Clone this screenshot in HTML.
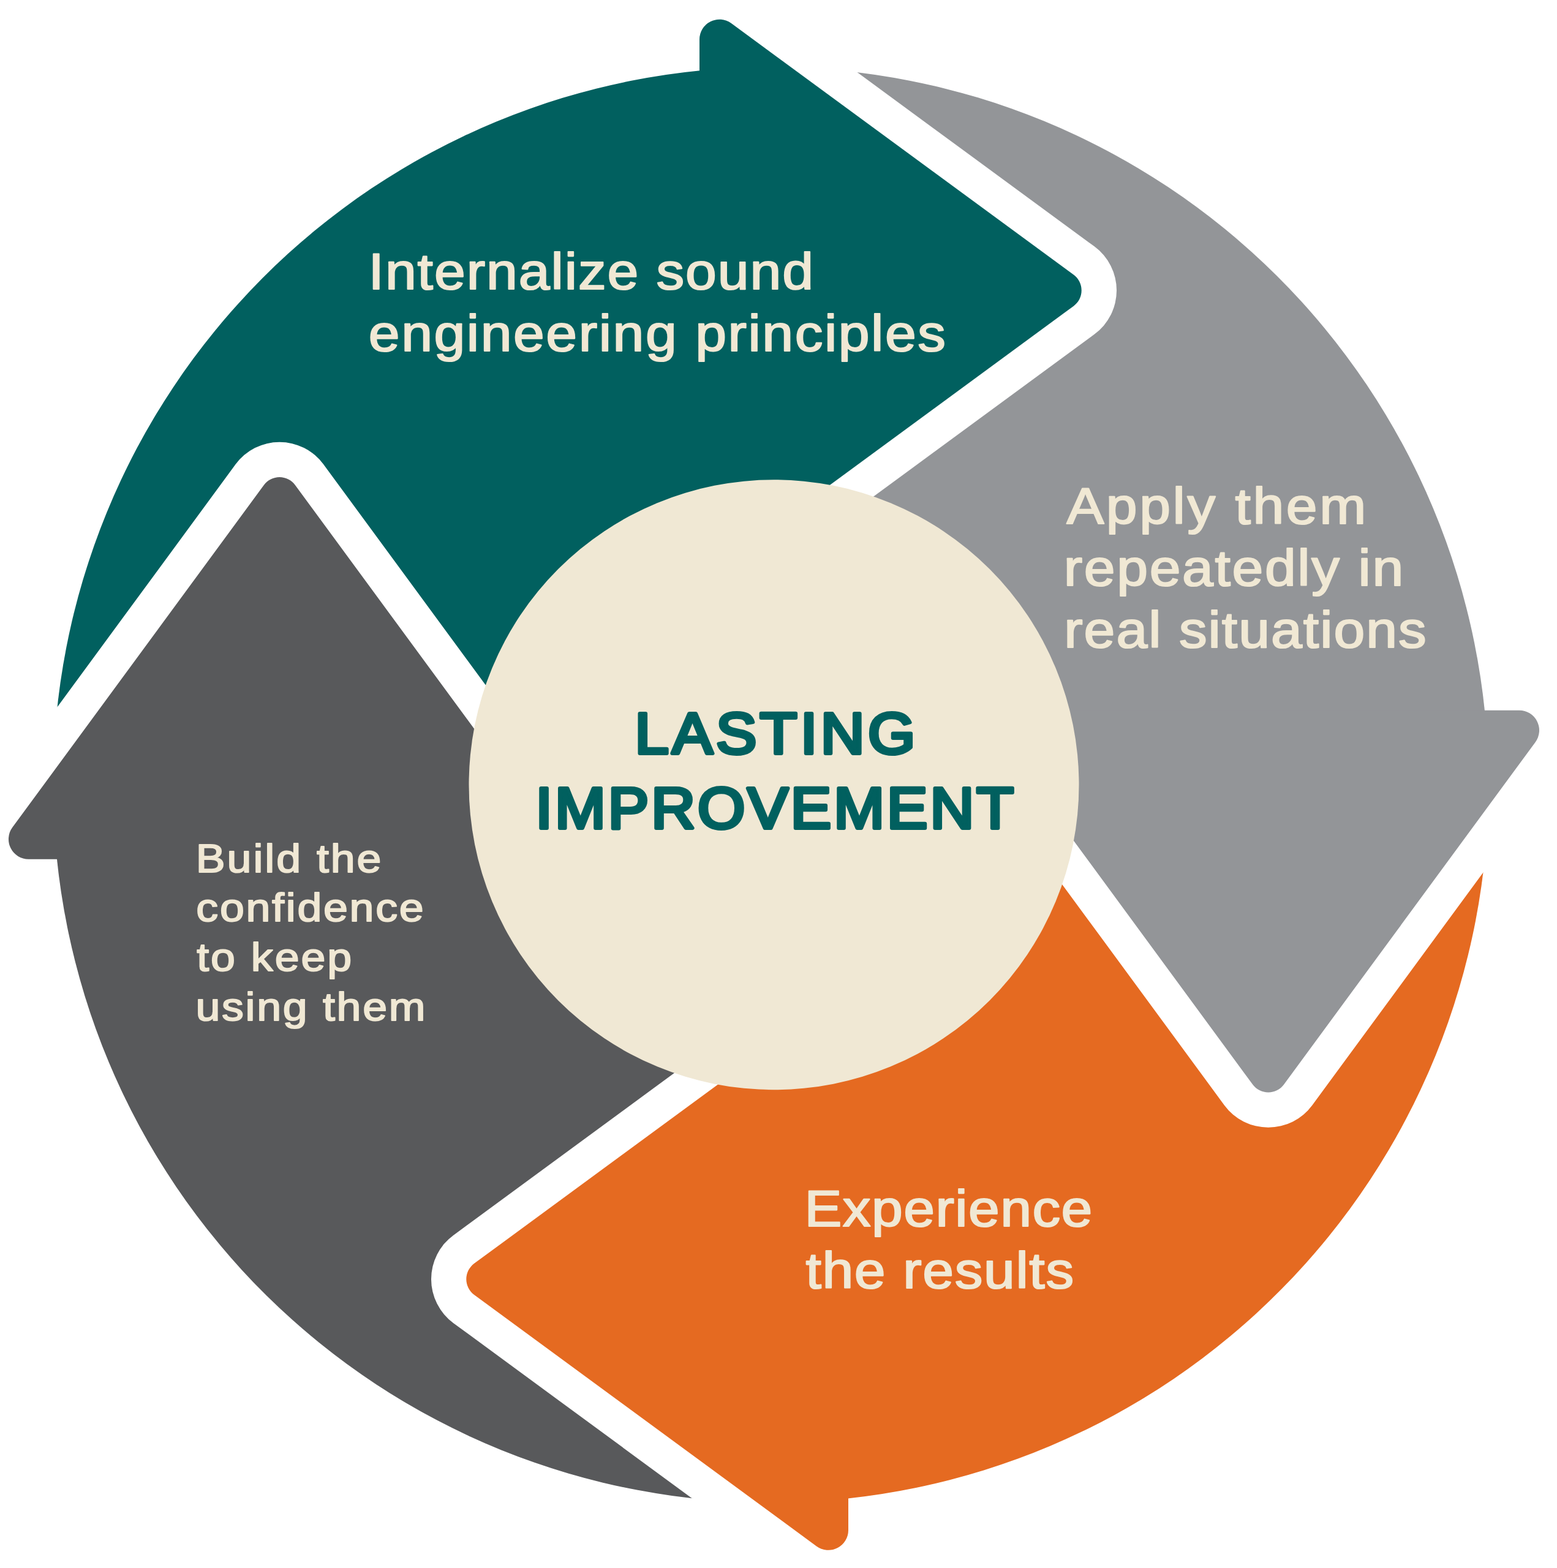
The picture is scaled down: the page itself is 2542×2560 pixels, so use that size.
<!DOCTYPE html>
<html lang="en">
<head>
<meta charset="utf-8">
<title>Lasting Improvement</title>
<style>
  html, body { margin: 0; padding: 0; background: #ffffff; }
  body { width: 2542px; height: 2560px; overflow: hidden; }
  svg { display: block; }
  text { font-family: "Liberation Sans", sans-serif; stroke-linejoin: round; stroke-linecap: round; }
  .lbl { fill: #f0e8d4; stroke: #f0e8d4; }
  .ttl { fill: #01605f; stroke: #01605f; font-weight: normal; }
</style>
</head>
<body>
<svg xmlns="http://www.w3.org/2000/svg" width="2542" height="2560" viewBox="0 0 2542 2560" role="img" aria-label="Lasting improvement cycle">
  <defs>
    <path id="head" d="M-121.5,-397.38 L-121.5,-1216.92 A32.6,32.6 0 0 1 -69.6,-1243.19 L489.28,-832.7 A31.7,31.7 0 0 1 489.28,-781.6 L-69.6,-371.11 A32.6,32.6 0 0 1 -121.5,-397.38 Z"/>
    <mask id="notch" maskUnits="userSpaceOnUse" x="-1400" y="-1400" width="2800" height="2800">
      <rect x="-1400" y="-1400" width="2800" height="2800" fill="#fff"/>
      <path d="M-178.8,-397.38 L-178.8,-1216.92 A89.9,89.9 0 0 1 -35.68,-1289.38 L523.2,-878.88 A89,89 0 0 1 523.2,-735.42 L-35.68,-324.92 A89.9,89.9 0 0 1 -178.8,-397.38 Z" transform="rotate(-90)" fill="#000"/>
    </mask>
  </defs>
  <rect width="2542" height="2560" fill="#ffffff"/>
  <g transform="translate(1263.5,1281.25)">
    <g transform="rotate(0)"><g mask="url(#notch)" fill="#01605f"><path d="M-118.5,-1166.22 A1171.82,1171.82 0 0 0 -1170.56,121.5 L-118.5,121.5 Z"/><use href="#head"/></g></g>
    <g transform="rotate(90)"><g mask="url(#notch)" fill="#939598"><path d="M-118.5,-1160.75 A1171.82,1171.82 0 0 0 -1165.92,121.5 L-118.5,121.5 Z"/><use href="#head"/></g></g>
    <g transform="rotate(180)"><g mask="url(#notch)" fill="#e56a21"><path d="M-118.5,-1165.39 A1171.82,1171.82 0 0 0 -1160.44,121.5 L-118.5,121.5 Z"/><use href="#head"/></g></g>
    <g transform="rotate(270)"><g mask="url(#notch)" fill="#58595b"><path d="M-118.5,-1170.87 A1171.82,1171.82 0 0 0 -1165.07,121.5 L-118.5,121.5 Z"/><use href="#head"/></g></g>
    <circle cx="0" cy="0" r="498" fill="#f0e8d4"/>
  </g>
  <g class="lbl" font-size="83" stroke-width="2.2">
    <text transform="translate(601.6 471.8) scale(1.1 1)" letter-spacing="1.77">Internalize sound</text>
    <text transform="translate(601.8 572.9) scale(1.1 1)" letter-spacing="2.34">engineering principles</text>
  </g>
  <g class="lbl" font-size="83" stroke-width="2.2">
    <text transform="translate(1741.4 854.85) scale(1.1 1)" letter-spacing="3.25">Apply them</text>
    <text transform="translate(1736.8 955.65) scale(1.1 1)" letter-spacing="2.4">repeatedly in</text>
    <text transform="translate(1737.2 1056.55) scale(1.1 1)" letter-spacing="1.84">real situations</text>
  </g>
  <g class="lbl" font-size="83" stroke-width="2.2">
    <text transform="translate(1313.5 2001.5) scale(1.1 1)" letter-spacing="1.33">Experience</text>
    <text transform="translate(1315.4 2102.55) scale(1.1 1)" letter-spacing="1.5">the results</text>
  </g>
  <g class="lbl" font-size="65.2" stroke-width="2">
    <text transform="translate(319.8 1423.65) scale(1.1 1)" letter-spacing="2.69">Build the</text>
    <text transform="translate(320.3 1504.45) scale(1.1 1)" letter-spacing="2.48">confidence</text>
    <text transform="translate(321.2 1585.35) scale(1.1 1)" letter-spacing="2.7">to keep</text>
    <text transform="translate(319.4 1666.05) scale(1.1 1)" letter-spacing="2.46">using them</text>
  </g>
  <g class="ttl" font-size="94.7" stroke-width="6">
    <text transform="translate(1036.5 1230.4) scale(1.05 1)" letter-spacing="5.14">LASTING</text>
    <text transform="translate(874.2 1351.7) scale(1.05 1)" letter-spacing="3.87">IMPROVEMENT</text>
  </g>
</svg>
</body>
</html>
